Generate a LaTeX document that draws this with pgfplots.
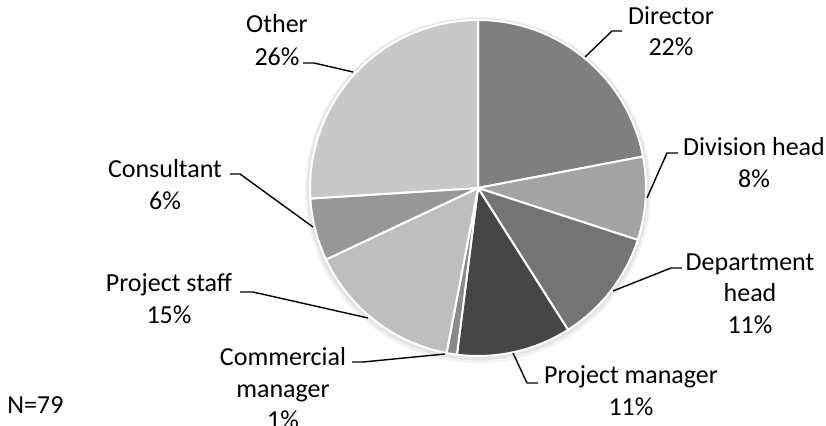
\documentclass[border=0pt]{standalone}
\usepackage{fontspec}
\setmainfont{Carlito}
\usepackage{pgfplots}
\usepackage{pgfplotstable}
\pgfplotsset{compat=1.18}

% slice shades, in table order
\definecolor{c0}{HTML}{7F7F7F}
\definecolor{c1}{HTML}{A3A3A3}
\definecolor{c2}{HTML}{747474}
\definecolor{c3}{HTML}{464646}
\definecolor{c4}{HTML}{8A8A8A}
\definecolor{c5}{HTML}{BEBEBE}
\definecolor{c6}{HTML}{979797}
\definecolor{c7}{HTML}{C8C8C8}

\pgfplotstableread[col sep=comma]{
role,share
Director,22
Division head,8
Department head,11
Project manager,11
Commercial manager,1
Project staff,15
Consultant,6
Other,26
}\piedata

% pie centre and radius in picture pixels (1px = 0.5bp)
\def\cx{478}
\def\cy{188}
\def\rad{84bp}

% build the slices from the table, clockwise from 12 o'clock
\def\pieslices{}
\def\cum{0}
\pgfplotstableforeachcolumnelement{share}\of\piedata\as\val{%
  \pgfmathsetmacro\aStart{90-3.6*\cum}%
  \pgfmathsetmacro\aEnd{90-3.6*(\cum+\val)}%
  \pgfmathsetmacro\newcum{\cum+\val}%
  \xdef\cum{\newcum}%
  \xdef\pieslices{\unexpanded\expandafter{\pieslices}%
    \noexpand\fill[c\pgfplotstablerow,draw=white,line width=1bp,line join=round]
      (axis cs:\cx,\cy) -- ++(\aStart:\rad)
      arc[start angle=\aStart,end angle=\aEnd,radius=\rad] -- cycle;}%
}

\newcommand\lbl[3]{\node[anchor=base,inner sep=0pt] at (axis cs:#1,#2) {#3};}

\begin{document}
\begin{tikzpicture}[font=\fontsize{13bp}{15.75bp}\selectfont]
\useasboundingbox (0,0) rectangle (413bp,213bp);
\begin{axis}[
    scale only axis,
    width=413bp, height=213bp,
    xmin=0, xmax=826, ymin=0, ymax=426,
    y dir=reverse,
    hide axis,
]
% soft shadow round the pie
\fill[black,opacity=0.05] (axis cs:\cx,190) circle[radius=86.5bp];
\fill[black,opacity=0.06] (axis cs:\cx,189) circle[radius=85.5bp];
\pieslices

% leader lines
\draw[line width=0.7bp,line join=round] (axis cs:585,57) -- (axis cs:612,31) -- (axis cs:622,31);
\draw[line width=0.7bp,line join=round] (axis cs:647,198) -- (axis cs:667,153) -- (axis cs:678,153);
\draw[line width=0.7bp,line join=round] (axis cs:613,291) -- (axis cs:671,268) -- (axis cs:682,268);
\draw[line width=0.7bp,line join=round] (axis cs:513,353) -- (axis cs:527,383) -- (axis cs:538,383);
\draw[line width=0.7bp,line join=round] (axis cs:445,354) -- (axis cs:363,362) -- (axis cs:352,362);
\draw[line width=0.7bp,line join=round] (axis cs:368,318) -- (axis cs:253,292) -- (axis cs:240,292);
\draw[line width=0.7bp,line join=round] (axis cs:313,227) -- (axis cs:240,174) -- (axis cs:230,174);
\draw[line width=0.7bp,line join=round] (axis cs:353,72) -- (axis cs:314,63) -- (axis cs:303,63);

% data labels
\lbl{671}{25}{Director}
\lbl{671}{56}{22\%}
\lbl{754}{155}{Division head}
\lbl{754}{187}{8\%}
\lbl{750}{270}{Department}
\lbl{750}{301}{head}
\lbl{750}{333}{11\%}
\lbl{631}{383}{Project manager}
\lbl{631}{415}{11\%}
\lbl{283}{365}{Commercial}
\lbl{283}{397}{manager}
\lbl{283}{428}{1\%}
\lbl{169}{291}{Project staff}
\lbl{169}{323}{15\%}
\lbl{165}{177}{Consultant}
\lbl{165}{209}{6\%}
\lbl{277}{33}{Other}
\lbl{277}{65}{26\%}
\node[anchor=base west,inner sep=0pt] at (axis cs:7,413) {N=79};
\end{axis}
\end{tikzpicture}
\end{document}
